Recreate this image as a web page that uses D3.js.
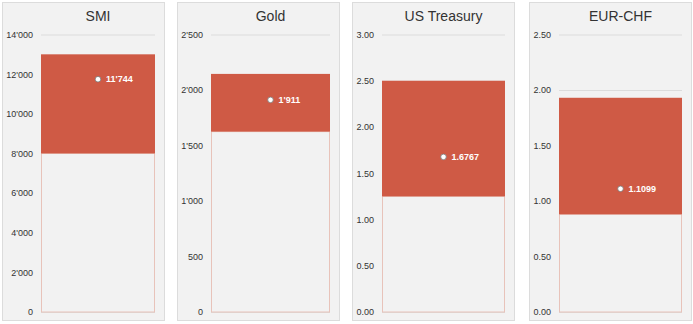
<!DOCTYPE html>
<html>
<head>
<meta charset="utf-8">
<script src="https://cdn.jsdelivr.net/npm/d3@7"></script>
<style>
  html, body { margin: 0; padding: 0; background: #ffffff; }
  svg { display: block; font-family: "Liberation Sans", Arial, Helvetica, sans-serif; }
</style>
</head>
<body>
<svg id="chart" width="693" height="324"></svg>
<script>
// ---- data ----
const names = ["SMI", "Gold", "US Treasury", "EUR-CHF"];
const rangeLow = [8000, 1625, 1.25, 0.88];
const rangeHigh = [13000, 2145, 2.5, 1.93];
const currentValues = [11744, 1911, 1.6767, 1.1099];
const axisMax = [14000, 2500, 3, 2.5];
const tickValues = [
  [0, 2000, 4000, 6000, 8000, 10000, 12000, 14000],
  [0, 500, 1000, 1500, 2000, 2500],
  [0, 0.5, 1, 1.5, 2, 2.5, 3],
  [0, 0.5, 1, 1.5, 2, 2.5]
];
const tickFormats = [",d", ",d", ".2f", ".2f"];
const valueFormats = [",d", ",d", ".4f", ".4f"];

// ---- layout ----
const panelX = [2, 177, 352, 529];
const panelW = 163;
const panelTop = 2, panelBottom = 321;
const plotTop = 34.5, plotBottom = 312;
const red = "#cf5a45";

const locale = d3.formatLocale({decimal: ".", thousands: "'", grouping: [3], currency: ["", ""]});
const svg = d3.select("#chart");

names.forEach((name, i) => {
  const g = svg.append("g").attr("transform", `translate(${panelX[i]},0)`);
  g.append("rect")
    .attr("x", 0.5).attr("y", panelTop + 0.5)
    .attr("width", panelW - 1).attr("height", panelBottom - panelTop - 1)
    .attr("fill", "#f2f2f2").attr("stroke", "#dcdcdc");

  const fmt = locale.format(tickFormats[i]);
  const tmp = g.append("text").attr("font-size", 9);
  let maxW = 0;
  tickValues[i].forEach(v => { tmp.text(fmt(v)); maxW = Math.max(maxW, tmp.node().getComputedTextLength()); });
  tmp.remove();

  const left = Math.round(maxW + 12);
  const right = panelW - 10;

  const y = d3.scaleLinear().domain([0, axisMax[i]]).range([plotBottom, plotTop]);
  const x = d3.scaleBand().domain([name]).range([left, right]).padding(0);

  const axis = d3.axisLeft(y).tickValues(tickValues[i]).tickFormat(fmt).tickSize(-(right - left)).tickPadding(8);
  const ax = g.append("g").attr("transform", `translate(${left},0)`).call(axis);
  ax.select(".domain").remove();
  ax.selectAll(".tick line").attr("stroke", "#dcdcdc").attr("stroke-width", 1);
  ax.selectAll(".tick text").attr("font-size", 9).attr("fill", "#333")
    .attr("font-family", "'Liberation Sans', Arial, sans-serif");

  g.append("rect")
    .attr("x", x(name) + 0.5).attr("y", y(rangeLow[i]))
    .attr("width", x.bandwidth() - 1).attr("height", y(0) - y(rangeLow[i]))
    .attr("fill", "#f2f2f2").attr("stroke", "#e8c3ba").attr("stroke-width", 1);

  g.append("rect")
    .attr("x", x(name)).attr("y", y(rangeHigh[i]))
    .attr("width", x.bandwidth()).attr("height", y(rangeLow[i]) - y(rangeHigh[i]))
    .attr("fill", red);

  const cx = x(name) + x.bandwidth() / 2;
  const cy = y(currentValues[i]);
  g.append("circle").attr("cx", cx).attr("cy", cy).attr("r", 2.8)
    .attr("fill", "#ffffff").attr("stroke", "#777").attr("stroke-width", 0.8);
  g.append("text").attr("x", cx + 8).attr("y", cy).attr("dy", "0.35em")
    .attr("font-size", 9).attr("font-weight", "bold").attr("fill", "#ffffff")
    .text(locale.format(valueFormats[i])(currentValues[i]));

  g.append("text").attr("x", (left + right) / 2).attr("y", 16).attr("dy", "0.35em")
    .attr("text-anchor", "middle").attr("font-size", 14).attr("fill", "#333")
    .text(name);
});
</script>
</body>
</html>
